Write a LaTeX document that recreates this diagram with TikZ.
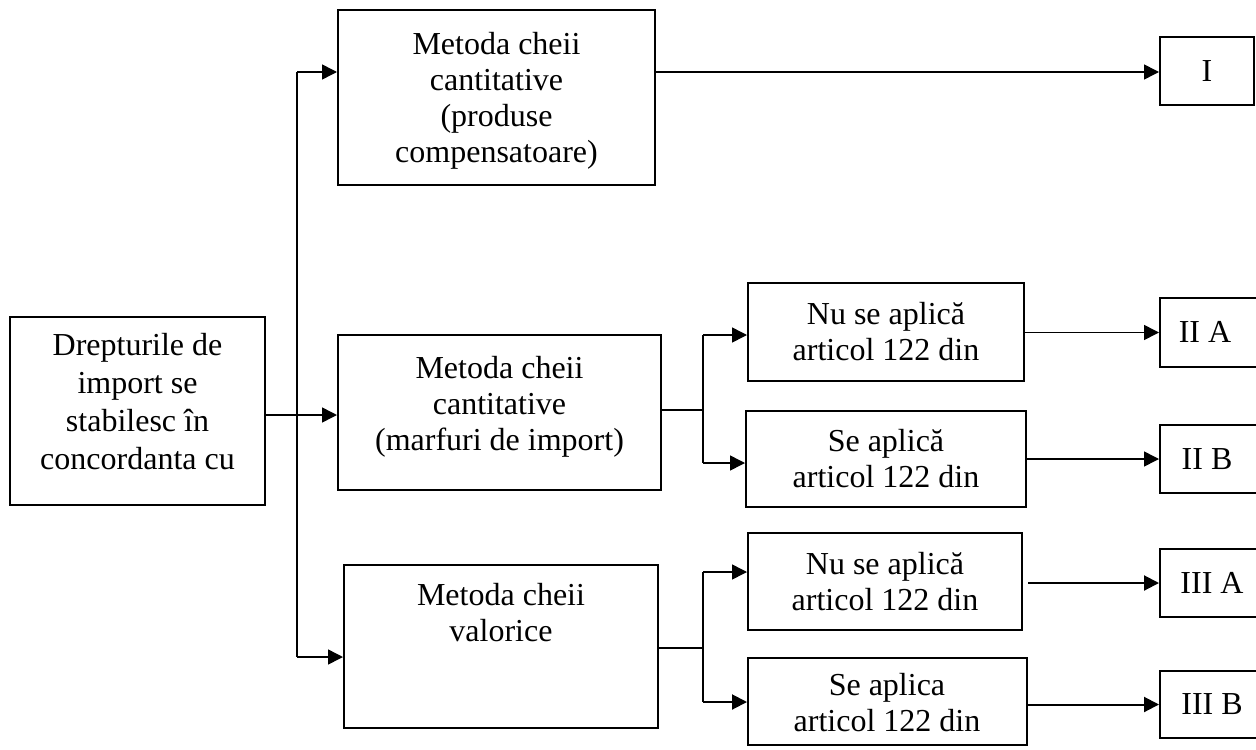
\documentclass[tikz,border=0pt]{standalone}
\usepackage{fontspec}
\setmainfont{Liberation Serif}
\usetikzlibrary{fit,arrows.meta}
\begin{document}
\begin{tikzpicture}[x=0.5pt,y=-0.5pt,
  box/.style={draw, line width=1pt, inner sep=0pt},
  txt/.style={align=center, inner sep=0pt, font=\fontsize{16}{18}\selectfont},
  arr/.style={line width=0.75pt, -{Triangle[length=7.5pt,width=7.5pt]}},
  arrb/.style={line width=1pt, -{Triangle[length=7.5pt,width=7.5pt]}},
  ln/.style={line width=0.75pt},
  lnb/.style={line width=1pt}]
\useasboundingbox (0,0) rectangle (1256,749);
% boxes
\node[box, fit={(10,317) (265,505)}] (b0) {};
\node[txt, font=\fontsize{16}{19}\selectfont] (b0t) at (137.5,402) {Drepturile de\\import se\\stabilesc în\\concordanta cu};
\node[box, fit={(338,10) (655,185)}] (b1) {};
\node[txt] (b1t) at (496.5,101) {Metoda cheii\\cantitative\\(produse\\compensatoare)};
\node[box, fit={(338,335) (661,490)}] (b2) {};
\node[txt] (b2t) at (499.5,407) {Metoda cheii\\cantitative\\(marfuri de import)};
\node[box, fit={(344,565) (658,728)}] (b3) {};
\node[txt] (b3t) at (501,613) {Metoda cheii\\valorice};
\node[box, fit={(748,283) (1024,381)}] (n2) {};
\node[txt] (n2t) at (n2.center) {Nu se aplică\\articol 122 din};
\node[box, fit={(746,411) (1026,507)}] (s2) {};
\node[txt] (s2t) at (s2.center) {Se aplică\\articol 122 din};
\node[box, fit={(748,533) (1022,630)}] (n3) {};
\node[txt] (n3t) at (n3.center) {Nu se aplică\\articol 122 din};
\node[box, fit={(748,658) (1027,745)}] (s3) {};
\node[txt] (s3t) at (887,703) {Se aplica\\articol 122 din};
\node[box, fit={(1160,37) (1254,105)}] (r1) {};
\node[txt] (r1t) at (r1.center) {I};
\node[box, fit={(1160,298) (1262,367)}] (r2a) {};
\node[txt] (r2at) at (1205,332) {II A};
\node[box, fit={(1160,425) (1262,493)}] (r2b) {};
\node[txt] (r2bt) at (1207,459) {II B};
\node[box, fit={(1160,549) (1262,617)}] (r3a) {};
\node[txt] (r3at) at (1212,583) {III A};
\node[box, fit={(1160,671) (1262,738)}] (r3b) {};
\node[txt] (r3bt) at (1212,704) {III B};
% trunk
\coordinate (t1) at (297,72);
\coordinate (t3) at (297,657);
\coordinate (j) at (297,415);
\draw[ln] (t1) -- (t3);
\draw[arr] (t1) -- (b1.west |- t1);
\draw[arr] (t3) -- (b3.west |- t3);
\draw[arr] (b0.east |- j) -- (b2.west |- j);
\draw[arr] (b1.east |- t1) -- (r1.west |- t1);
% second branch
\coordinate (j2) at (703,410);
\coordinate (j2a) at (703,335);
\coordinate (j2b) at (703,463);
\draw[ln] (b2.east |- j2) -- (j2);
\draw[ln] (j2a) -- (j2b);
\draw[arr] (j2a) -- (n2.west |- j2a);
\draw[arr] (j2b) -- (s2.west |- j2b);
\draw[arr] (n2.east |- r2a) -- (r2a.west);
\draw[arr] (s2.east |- r2b) -- (r2b.west);
% third branch
\coordinate (j3) at (703,648);
\coordinate (j3a) at (703,572);
\coordinate (j3b) at (703,702);
\draw[ln] (b3.east |- j3) -- (j3);
\draw[ln] (j3a) -- (j3b);
\draw[arr] (j3a) -- (n3.west |- j3a);
\draw[arrb] (j3b) -- (s3.west |- j3b);
\draw[arrb] (n3.east |- r3a) ++(5,0) -- (r3a.west);
\draw[arrb] (s3.east |- r3b) -- (r3b.west);
\end{tikzpicture}
\end{document}
